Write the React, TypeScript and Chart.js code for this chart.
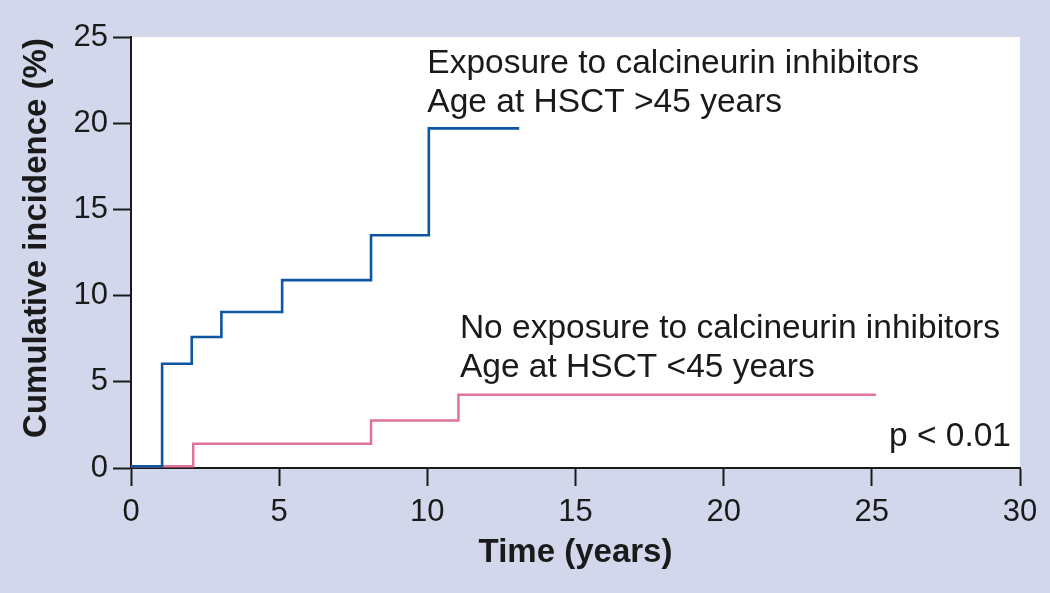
import React, { useEffect, useRef } from "react";
import { Chart, registerables } from "chart.js";

Chart.register(...registerables);

// ---- Data ----
const blueTimes = [0, 1.05, 2.05, 3.05, 5.1, 8.1, 10.05, 13.1];
const blueIncidence = [0.1, 6.05, 7.6, 9.05, 10.9, 13.5, 19.7, 19.7];
const pinkTimes = [0, 2.1, 8.1, 11.05, 25.1];
const pinkIncidence = [0.1, 1.4, 2.75, 4.25, 4.3];

const xTicks = [0, 5, 10, 15, 20, 25, 30];
const yTicks = [0, 5, 10, 15, 20, 25];

const blueLabel = ["Exposure to calcineurin inhibitors", "Age at HSCT >45 years"];
const pinkLabel = ["No exposure to calcineurin inhibitors", "Age at HSCT <45 years"];
const pValueText = "p < 0.01";
const xTitle = "Time (years)";
const yTitle = "Cumulative incidence (%)";

const BG = "#d3d7ec";
const BLUE = "#0d56a3";
const PINK = "#e0739d";
const INK = "#1a1a1a";
const FONT = "'Liberation Sans', Arial, Helvetica, sans-serif";

const decorPlugin = {
  id: "decor",
  beforeDraw(chart: any) {
    const { ctx, chartArea } = chart;
    ctx.save();
    ctx.fillStyle = BG;
    ctx.fillRect(0, 0, chart.width, chart.height);
    ctx.fillStyle = "#ffffff";
    ctx.fillRect(chartArea.left, chartArea.top, chartArea.right - chartArea.left, chartArea.bottom - chartArea.top);
    ctx.restore();
  },
  afterDraw(chart: any) {
    const { ctx } = chart;
    const xs = chart.scales.x;
    ctx.save();
    ctx.fillStyle = INK;
    ctx.font = `33.5px ${FONT}`;
    ctx.textBaseline = "alphabetic";
    ctx.textAlign = "left";
    const bx = xs.getPixelForValue(10.0);
    ctx.fillText(blueLabel[0], bx, 73);
    ctx.fillText(blueLabel[1], bx, 112);
    const px = xs.getPixelForValue(11.1);
    ctx.fillText(pinkLabel[0], px, 338);
    ctx.fillText(pinkLabel[1], px, 377);
    ctx.textAlign = "right";
    ctx.fillText(pValueText, 1011, 446);
    ctx.font = `bold 33px ${FONT}`;
    ctx.textAlign = "center";
    ctx.textBaseline = "middle";
    ctx.translate(37, 238);
    ctx.rotate(-Math.PI / 2);
    ctx.fillText(yTitle, 0, 0);
    ctx.restore();
    ctx.save();
    ctx.fillStyle = INK;
    ctx.font = `bold 33px ${FONT}`;
    ctx.textAlign = "center";
    ctx.textBaseline = "middle";
    ctx.fillText(xTitle, (xs.left + xs.right) / 2, 553);
    ctx.restore();
  },
};

export default function App() {
  const ref = useRef<HTMLCanvasElement | null>(null);

  useEffect(() => {
    document.body.style.margin = "0";
    const canvas = ref.current!;
    const chart = new Chart(canvas, {
      type: "line",
      data: {
        datasets: [
          {
            label: "Exposure",
            data: blueTimes.map((t, i) => ({ x: t, y: blueIncidence[i] })),
            borderColor: BLUE,
            borderWidth: 2.6,
            stepped: "before",
            pointRadius: 0,
            fill: false,
          },
          {
            label: "No exposure",
            data: pinkTimes.map((t, i) => ({ x: t, y: pinkIncidence[i] })),
            borderColor: PINK,
            borderWidth: 2.5,
            stepped: "before",
            pointRadius: 0,
            fill: false,
          },
        ],
      },
      options: {
        responsive: false,
        animation: false,
        devicePixelRatio: 1,
        layout: { padding: { top: 37, right: 30, left: 0, bottom: 0 } },
        plugins: { legend: { display: false }, tooltip: { enabled: false } },
        scales: {
          x: {
            type: "linear",
            min: 0,
            max: 30,
            afterFit: (s: any) => {
              s.height = 125;
            },
            afterBuildTicks: (s: any) => {
              s.ticks = xTicks.map((v) => ({ value: v }));
            },
            grid: {
              drawOnChartArea: false,
              drawTicks: true,
              tickLength: 18,
              tickColor: INK,
              tickWidth: 2,
            },
            border: { display: true, color: INK, width: 2 },
            ticks: {
              color: INK,
              padding: 8,
              font: { family: FONT, size: 31 },
              maxRotation: 0,
            },
          },
          y: {
            type: "linear",
            min: 0,
            max: 25,
            afterFit: (s: any) => {
              s.width = 131;
            },
            afterBuildTicks: (s: any) => {
              s.ticks = yTicks.map((v) => ({ value: v }));
            },
            grid: {
              drawOnChartArea: false,
              drawTicks: true,
              tickLength: 18,
              tickColor: INK,
              tickWidth: 2,
            },
            border: { display: true, color: INK, width: 2 },
            ticks: {
              color: INK,
              padding: 5,
              font: { family: FONT, size: 31 },
            },
          },
        },
      },
      plugins: [decorPlugin],
    });
    return () => chart.destroy();
  }, []);

  return <canvas ref={ref} width={1050} height={593} style={{ display: "block" }} />;
}
